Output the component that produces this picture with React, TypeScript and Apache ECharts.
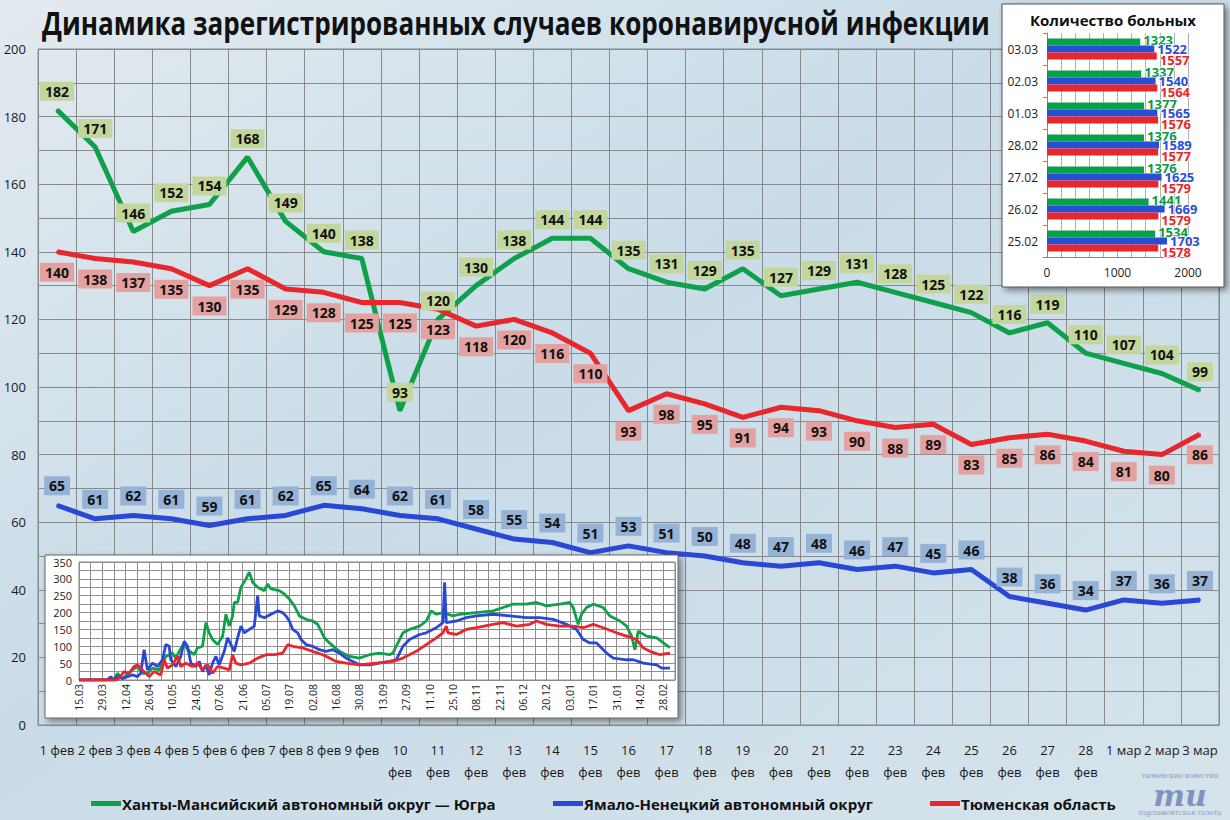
import React, { useEffect, useRef } from "react";
import * as echarts from "echarts";

// ---------- main chart data ----------
const days = [
  "1 фев", "2 фев", "3 фев", "4 фев", "5 фев", "6 фев", "7 фев", "8 фев", "9 фев", "10 фев",
  "11 фев", "12 фев", "13 фев", "14 фев", "15 фев", "16 фев", "17 фев", "18 фев", "19 фев", "20 фев",
  "21 фев", "22 фев", "23 фев", "24 фев", "25 фев", "26 фев", "27 фев", "28 фев", "1 мар", "2 мар", "3 мар",
];
const khmao = [182, 171, 146, 152, 154, 168, 149, 140, 138, 93, 120, 130, 138, 144, 144, 135, 131, 129, 135, 127, 129, 131, 128, 125, 122, 116, 119, 110, 107, 104, 99];
const tyumen = [140, 138, 137, 135, 130, 135, 129, 128, 125, 125, 123, 118, 120, 116, 110, 93, 98, 95, 91, 94, 93, 90, 88, 89, 83, 85, 86, 84, 81, 80, 86];
const yanao = [65, 61, 62, 61, 59, 61, 62, 65, 64, 62, 61, 58, 55, 54, 51, 53, 51, 50, 48, 47, 48, 46, 47, 45, 46, 38, 36, 34, 37, 36, 37];
const mainTicks = [0, 20, 40, 60, 80, 100, 120, 140, 160, 180, 200];

const NAME_KHMAO = "Ханты-Мансийский автономный округ — Югра";
const NAME_YANAO = "Ямало-Ненецкий автономный округ";
const NAME_TYUMEN = "Тюменская область";
const TITLE = "Динамика зарегистрированных случаев коронавирусной инфекции";

// ---------- top-right inset: patients count ----------
const barDates = ["25.02", "26.02", "27.02", "28.02", "01.03", "02.03", "03.03"];
const khmaoSick = [1534, 1441, 1376, 1376, 1377, 1337, 1323];
const yanaoSick = [1703, 1669, 1625, 1589, 1565, 1540, 1522];
const tyumenSick = [1578, 1579, 1579, 1577, 1576, 1564, 1557];
const barTicks = [0, 1000, 2000];

// ---------- bottom-left inset: whole epidemic, [day since 15.03.2020, new cases] ----------
const khmaoHistory = [
  [0, 0], [14, 0], [21, 0], [23, 20], [26, 3], [32, 30], [35, 40], [38, 20], [41, 20], [44, 35], [48, 30],
  [52, 70], [56, 80], [58, 65], [60, 85], [63, 110], [65, 90], [69, 75], [71, 95], [74, 100], [76, 170],
  [78, 140], [80, 120], [83, 105], [86, 130], [88, 195], [90, 160], [92, 190], [93, 230], [95, 230], [97, 275],
  [100, 300], [102, 320], [104, 290], [107, 275], [111, 265], [113, 285], [115, 270], [120, 265], [123, 255],
  [126, 240], [129, 220], [132, 190], [136, 180], [140, 175], [143, 165], [145, 145], [147, 125], [150, 110],
  [156, 85], [162, 70], [168, 65], [174, 75], [180, 80], [186, 75], [188, 80], [194, 140], [198, 150],
  [204, 160], [208, 175], [211, 205], [214, 195], [218, 200], [224, 190], [228, 195], [238, 200], [248, 205],
  [254, 215], [260, 225], [268, 225], [274, 230], [280, 220], [288, 225], [294, 230], [296, 215], [299, 165],
  [301, 195], [304, 215], [308, 225], [314, 215], [318, 190], [324, 175], [328, 160], [331, 130], [333, 90],
  [335, 145], [340, 130], [346, 125], [350, 110], [354, 96],
];
const yanaoHistory = [
  [0, 0], [17, 0], [19, 10], [21, 0], [23, 12], [26, 5], [32, 15], [35, 10], [37, 20], [39, 90], [41, 30],
  [44, 50], [47, 40], [50, 60], [52, 105], [54, 100], [55, 60], [58, 40], [61, 70], [63, 115], [65, 100],
  [67, 50], [70, 40], [72, 55], [74, 25], [76, 45], [78, 15], [80, 50], [82, 70], [84, 45], [87, 85], [89, 125],
  [91, 105], [93, 85], [95, 125], [97, 160], [99, 140], [102, 150], [105, 160], [107, 250], [108, 190],
  [111, 185], [115, 195], [119, 205], [122, 200], [124, 190], [126, 175], [128, 150], [131, 140], [133, 120],
  [136, 105], [140, 100], [144, 90], [148, 85], [152, 90], [156, 80], [160, 65], [164, 55], [168, 45],
  [174, 45], [180, 50], [186, 55], [190, 60], [194, 100], [198, 120], [204, 135], [208, 140], [214, 155],
  [218, 170], [219, 290], [220, 170], [226, 175], [232, 185], [238, 190], [248, 195], [258, 190], [268, 185],
  [276, 185], [284, 180], [292, 165], [298, 150], [302, 120], [306, 110], [310, 110], [316, 80], [320, 65],
  [328, 60], [332, 60], [338, 50], [346, 45], [349, 35], [354, 35],
];
const tyumenHistory = [
  [0, 0], [22, 0], [24, 5], [27, 25], [30, 20], [33, 40], [35, 45], [38, 30], [42, 10], [45, 25], [49, 15],
  [51, 60], [53, 35], [56, 45], [59, 70], [61, 40], [64, 50], [68, 40], [71, 50], [74, 30], [77, 45], [80, 20],
  [83, 40], [87, 35], [90, 30], [92, 75], [94, 50], [97, 45], [102, 50], [107, 65], [112, 75], [117, 75],
  [122, 80], [125, 105], [128, 100], [134, 95], [140, 85], [146, 75], [150, 65], [154, 55], [160, 50],
  [168, 45], [178, 50], [188, 55], [194, 65], [202, 85], [208, 105], [214, 125], [218, 140], [220, 160],
  [221, 140], [226, 135], [232, 150], [238, 155], [248, 165], [254, 170], [262, 160], [270, 165], [274, 175],
  [280, 165], [288, 160], [296, 160], [302, 155], [308, 165], [314, 155], [322, 140], [328, 130], [334, 120],
  [338, 95], [342, 85], [348, 75], [354, 80],
];
const historyStart = "2020-03-15";

const GREEN = "#10a04a";
const BLUE = "#2a48d6";
const RED = "#e8262c";
const GRID = "#868b90";
const FONT = "'Open Sans', 'DejaVu Sans', sans-serif";
const TITLE_FONT = "bold 33px 'Open Sans', sans-serif";
const TITLE_WIDTH = 948;

function historyLabel(d: number): string {
  if (d % 14 !== 0) return "";
  const base = new Date(historyStart + "T00:00:00Z");
  const dt = new Date(base.getTime() + d * 86400000);
  const dd = String(dt.getUTCDate()).padStart(2, "0");
  const mm = String(dt.getUTCMonth() + 1).padStart(2, "0");
  return dd + "." + mm;
}

function measure(text: string, font: string): number {
  const c = document.createElement("canvas");
  const ctx = c.getContext("2d");
  if (!ctx) return TITLE_WIDTH;
  ctx.font = font;
  return ctx.measureText(text).width || TITLE_WIDTH;
}

function pointLabel(bg: string, position: string, distance: number) {
  return {
    show: true,
    position,
    distance,
    backgroundColor: bg,
    padding: [2, 5],
    fontSize: 14,
    lineHeight: 15,
    fontWeight: "bold",
    color: "#111",
    fontFamily: FONT,
  };
}

function barLabel(color: string, offsetY: number) {
  return {
    show: true,
    position: "right",
    distance: 3,
    offset: [0, offsetY],
    color,
    fontSize: 13,
    fontWeight: "bold",
    fontFamily: FONT,
    textBorderColor: "rgba(255,255,255,0.85)",
    textBorderWidth: 2,
  };
}

function legendAt(name: string, left: number) {
  return {
    top: 791,
    left,
    itemWidth: 30,
    itemHeight: 5,
    icon: "rect",
    data: [name],
    selectedMode: false,
    textStyle: { fontFamily: FONT, fontSize: 15, fontWeight: "bold", color: "#111", padding: [0, 0, 0, -4] },
  };
}

export default function App() {
  const ref = useRef<HTMLDivElement>(null);

  useEffect(() => {
    if (!ref.current) return;
    const chart = echarts.init(ref.current, null, { renderer: "svg" });
    const titleScale = TITLE_WIDTH / measure(TITLE, TITLE_FONT);

    const option: any = {
      animation: false,
      backgroundColor: {
        type: "linear",
        x: 0, y: 0, x2: 1, y2: 1,
        colorStops: [
          { offset: 0, color: "#e3eaef" },
          { offset: 0.45, color: "#c9dce8" },
          { offset: 1, color: "#d6e3eb" },
        ],
      },
      legend: [
        legendAt(NAME_KHMAO, 86),
        legendAt(NAME_YANAO, 548),
        legendAt(NAME_TYUMEN, 925),
      ],
      grid: [
        { left: 38, top: 49, width: 1181, height: 676, show: true, borderColor: GRID, borderWidth: 1, backgroundColor: "transparent" },
        { left: 79, top: 562, width: 596, height: 118, show: true, borderColor: "#8a8a8a", borderWidth: 1, z: 20 },
        { left: 1047, top: 33, width: 141, height: 224, z: 20 },
      ],
      xAxis: [
        {
          type: "category",
          gridIndex: 0,
          data: days,
          boundaryGap: true,
          axisTick: { show: false },
          axisLine: { lineStyle: { color: GRID } },
          splitLine: { show: true, interval: 0, lineStyle: { color: GRID, width: 1 } },
          axisLabel: {
            interval: 0,
            margin: 14,
            fontSize: 13,
            lineHeight: 22,
            color: "#1a1a1a",
            fontFamily: FONT,
            formatter: (v: string) => (v.length > 5 ? v.replace(" ", "\n") : v),
          },
        },
        {
          type: "value",
          gridIndex: 1,
          min: 0,
          max: 357,
          interval: 7,
          z: 20,
          axisTick: { show: false },
          axisLine: { lineStyle: { color: "#8a8a8a" } },
          splitLine: { show: true, lineStyle: { color: "#8e8e8e", width: 1 } },
          axisLabel: { rotate: 90, margin: 4, fontSize: 10.5, color: "#222", fontFamily: FONT, formatter: historyLabel },
        },
        {
          type: "value",
          gridIndex: 2,
          min: 0,
          max: 2000,
          interval: 200,
          z: 20,
          axisTick: { show: false },
          axisLine: { show: true, lineStyle: { color: "#888" } },
          splitLine: { show: true, lineStyle: { color: "#b0b0b0", width: 1 } },
          axisLabel: {
            margin: 9,
            fontSize: 12,
            color: "#222",
            fontFamily: FONT,
            formatter: (v: number) => (barTicks.includes(v) ? String(v) : ""),
          },
        },
      ],
      yAxis: [
        {
          type: "value",
          gridIndex: 0,
          min: 0,
          max: 200,
          interval: 10,
          axisLine: { show: false },
          axisTick: { show: false },
          splitLine: { show: true, lineStyle: { color: GRID, width: 1 } },
          axisLabel: {
            margin: 12,
            fontSize: 13,
            color: "#1a1a1a",
            fontFamily: FONT,
            formatter: (v: number) => (mainTicks.includes(v) ? String(v) : ""),
          },
        },
        {
          type: "value",
          gridIndex: 1,
          min: 0,
          max: 350,
          interval: 25,
          z: 20,
          axisLine: { show: false },
          axisTick: { show: false },
          splitLine: { show: true, lineStyle: { color: "#8e8e8e", width: 1 } },
          axisLabel: {
            margin: 7,
            fontSize: 11,
            color: "#222",
            fontFamily: FONT,
            formatter: (v: number) => (v % 50 === 0 ? String(v) : ""),
          },
        },
        {
          type: "category",
          gridIndex: 2,
          data: barDates,
          z: 20,
          axisLine: { show: true, lineStyle: { color: "#888" } },
          axisTick: { show: true, length: 4, lineStyle: { color: "#888" } },
          splitLine: { show: false },
          axisLabel: { margin: 9, fontSize: 12, color: "#222", fontFamily: FONT },
        },
      ],
      series: [
        {
          type: "line",
          name: NAME_KHMAO,
          data: khmao,
          xAxisIndex: 0,
          yAxisIndex: 0,
          symbol: "circle",
          symbolSize: 2,
          lineStyle: { width: 5, color: GREEN },
          itemStyle: { color: GREEN },
          label: pointLabel("#c3d69b", "top", 8),
          z: 3,
        },
        {
          type: "line",
          name: NAME_YANAO,
          data: yanao,
          xAxisIndex: 0,
          yAxisIndex: 0,
          symbol: "circle",
          symbolSize: 2,
          lineStyle: { width: 5, color: BLUE },
          itemStyle: { color: BLUE },
          label: pointLabel("#95b3d7", "top", 9),
          z: 3,
        },
        {
          type: "line",
          name: NAME_TYUMEN,
          data: tyumen,
          xAxisIndex: 0,
          yAxisIndex: 0,
          symbol: "circle",
          symbolSize: 2,
          lineStyle: { width: 5, color: RED },
          itemStyle: { color: RED },
          label: pointLabel("#e3a19f", "bottom", 10),
          z: 3,
        },
        {
          type: "line",
          name: NAME_KHMAO,
          data: khmaoHistory,
          xAxisIndex: 1,
          yAxisIndex: 1,
          symbol: "none",
          lineStyle: { width: 2.8, color: GREEN },
          itemStyle: { color: GREEN },
          z: 21,
          silent: true,
        },
        {
          type: "line",
          name: NAME_YANAO,
          data: yanaoHistory,
          xAxisIndex: 1,
          yAxisIndex: 1,
          symbol: "none",
          lineStyle: { width: 2.8, color: BLUE },
          itemStyle: { color: BLUE },
          z: 22,
          silent: true,
        },
        {
          type: "line",
          name: NAME_TYUMEN,
          data: tyumenHistory,
          xAxisIndex: 1,
          yAxisIndex: 1,
          symbol: "none",
          lineStyle: { width: 2.8, color: RED },
          itemStyle: { color: RED },
          z: 23,
          silent: true,
        },
        {
          type: "bar",
          name: NAME_KHMAO,
          data: khmaoSick,
          xAxisIndex: 2,
          yAxisIndex: 2,
          barGap: "0%",
          barCategoryGap: "34%",
          itemStyle: { color: "#07a04c" },
          label: barLabel("#0a9a48", -2),
          z: 21,
        },
        {
          type: "bar",
          name: NAME_YANAO,
          data: yanaoSick,
          xAxisIndex: 2,
          yAxisIndex: 2,
          barGap: "0%",
          barCategoryGap: "34%",
          itemStyle: { color: "#2a4ed6" },
          label: barLabel("#2a4ed6", 0),
          z: 22,
        },
        {
          type: "bar",
          name: NAME_TYUMEN,
          data: tyumenSick,
          xAxisIndex: 2,
          yAxisIndex: 2,
          barGap: "0%",
          barCategoryGap: "34%",
          itemStyle: { color: "#e8262c" },
          label: barLabel("#e8262c", 4),
          z: 23,
        },
      ],
      graphic: {
        elements: [
          {
            type: "text",
            z: 5,
            x: 42,
            y: 22,
            scaleX: titleScale,
            style: {
              text: TITLE,
              fill: "#111",
              font: TITLE_FONT,
              textAlign: "left",
              textVerticalAlign: "middle",
            },
          },
          {
            type: "rect",
            z: 10,
            shape: { x: 1002, y: 4, width: 222, height: 283 },
            style: {
              fill: "#ffffff",
              stroke: "#555",
              lineWidth: 1,
              shadowBlur: 6,
              shadowColor: "rgba(0,0,0,0.45)",
              shadowOffsetX: 3,
              shadowOffsetY: 3,
            },
          },
          {
            type: "rect",
            z: 10,
            shape: { x: 45, y: 555, width: 633, height: 163 },
            style: {
              fill: "#ffffff",
              stroke: "#666",
              lineWidth: 1,
              shadowBlur: 6,
              shadowColor: "rgba(0,0,0,0.45)",
              shadowOffsetX: 3,
              shadowOffsetY: 3,
            },
          },
          {
            type: "text",
            z: 25,
            x: 1113,
            y: 20,
            style: {
              text: "Количество больных",
              fill: "#111",
              font: "bold 15px 'Open Sans', sans-serif",
              textAlign: "center",
              textVerticalAlign: "middle",
            },
          },
          {
            type: "text",
            z: 25,
            x: 1180,
            y: 776,
            style: {
              text: "тюменские известия",
              fill: "#8a9bc2",
              font: "7px 'DejaVu Serif', serif",
              textAlign: "center",
              textVerticalAlign: "middle",
            },
          },
          {
            type: "text",
            z: 25,
            x: 1180,
            y: 795,
            style: {
              text: "ти",
              fill: "#8193c0",
              font: "italic bold 30px 'DejaVu Serif', serif",
              textAlign: "center",
              textVerticalAlign: "middle",
            },
          },
          {
            type: "text",
            z: 25,
            x: 1180,
            y: 813,
            style: {
              text: "парламентская газета",
              fill: "#8a9bc2",
              font: "7px 'DejaVu Serif', serif",
              textAlign: "center",
              textVerticalAlign: "middle",
            },
          },
        ],
      },
    };

    chart.setOption(option);
    return () => chart.dispose();
  }, []);

  return (
    <div
      ref={ref}
      style={{ position: "fixed", left: 0, top: 0, width: 1230, height: 820 }}
    />
  );
}
